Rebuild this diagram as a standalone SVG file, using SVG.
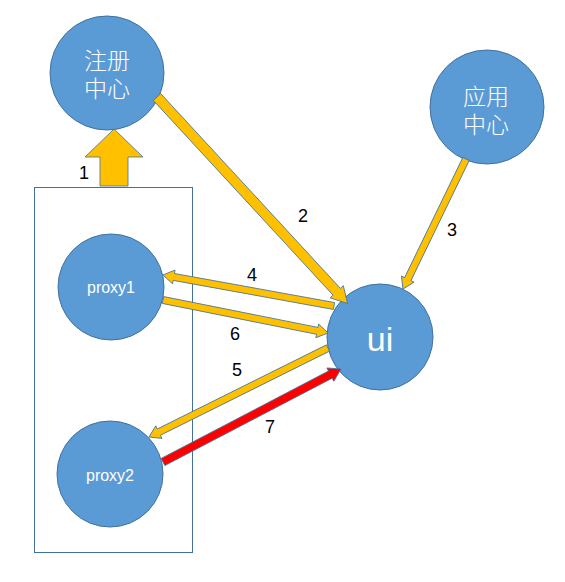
<svg xmlns="http://www.w3.org/2000/svg" width="565" height="582" viewBox="0 0 565 582">
<style>
.node{fill:#5B9BD5;stroke:#41719C;stroke-width:1}
.arr{fill:#FFC000;stroke:#41719C;stroke-width:0.8}
.red{fill:#FF0000;stroke:#41719C;stroke-width:0.8}
.lbl{font-family:"Liberation Sans",Arial,sans-serif;font-size:18px;fill:#000;text-anchor:middle}
.cn{font-family:"Liberation Sans","Noto Sans CJK SC",sans-serif;font-size:23px;font-weight:300;fill:#fff;text-anchor:middle}
.en{font-family:"Liberation Sans",Arial,sans-serif;font-size:16px;fill:#fff;text-anchor:middle}
</style>
<rect width="565" height="582" fill="#fff"/>
<g id="group-box">
<rect x="34.5" y="187.5" width="158" height="365" fill="none" stroke="#41719C" stroke-width="1"/>
</g>
<g id="node-registry">
<circle class="node" cx="107" cy="73" r="57"/>
<text class="cn" x="107" y="69">注册</text>
<text class="cn" x="107" y="97">中心</text>
</g>
<g id="node-app">
<circle class="node" cx="487" cy="107" r="57"/>
<text class="cn" x="486" y="105">应用</text>
<text class="cn" x="486" y="133">中心</text>
</g>
<g id="node-proxy1">
<circle class="node" cx="111" cy="287" r="53"/>
<text class="en" x="111" y="293">proxy1</text>
</g>
<g id="node-proxy2">
<circle class="node" cx="110" cy="474" r="53"/>
<text class="en" x="110" y="481">proxy2</text>
</g>
<g id="node-ui">
<circle class="node" cx="380" cy="337" r="53"/>
<text class="en" x="380" y="351" style="font-size:34px">ui</text>
</g>
<g id="connectors">
<polygon class="arr" points="100,186 100,157 85,157 114,129 143,157 128,157 128,186"/>
<polygon class="arr" transform="translate(157,97) rotate(47.3)" points="0,-5 265,-5 265,-9 281,0 265,9 265,5 0,5"/>
<polygon class="arr" transform="translate(466,159) rotate(115.86)" points="0,-3.5 133.5,-3.5 133.5,-7 144.5,0 133.5,7 133.5,3.5 0,3.5"/>
<polygon class="arr" transform="translate(334,306) rotate(190.28)" points="0,-3.5 162.8,-3.5 162.8,-7 173.8,0 162.8,7 162.8,3.5 0,3.5"/>
<polygon class="arr" transform="translate(163,300) rotate(11.31)" points="0,-3.5 157.3,-3.5 157.3,-7 168.3,0 157.3,7 157.3,3.5 0,3.5"/>
<polygon class="arr" transform="translate(328,348) rotate(153.56)" points="0,-3.5 188.9,-3.5 188.9,-7 199.9,0 188.9,7 188.9,3.5 0,3.5"/>
<polygon class="red" transform="translate(163,462) rotate(-27.58)" points="0,-4 188.8,-4 188.8,-7.5 200.8,0 188.8,7.5 188.8,4 0,4"/>
<text class="lbl" x="84" y="178.5">1</text>
<text class="lbl" x="303" y="222">2</text>
<text class="lbl" x="452" y="236">3</text>
<text class="lbl" x="252" y="281">4</text>
<text class="lbl" x="237" y="376">5</text>
<text class="lbl" x="235" y="340">6</text>
<text class="lbl" x="270" y="433">7</text>
</g>
</svg>
